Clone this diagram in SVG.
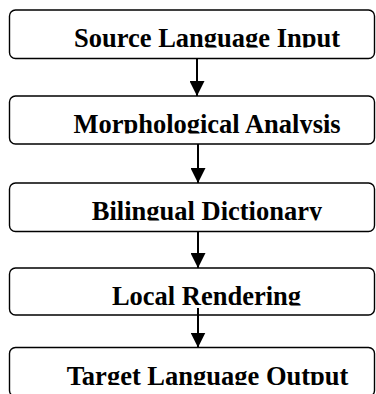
<svg xmlns="http://www.w3.org/2000/svg" width="376" height="394" viewBox="0 0 376 394">
<style>
.box{fill:#fff;stroke:#000;stroke-width:1.4}
.lbl{font-family:"Liberation Serif","Times New Roman",serif;font-weight:bold;font-size:26.5px;fill:#000;text-anchor:middle}
.con{stroke:#000;stroke-width:2;fill:none}
</style>
<defs>
<marker id="arr" markerUnits="userSpaceOnUse" markerWidth="15" markerHeight="15" viewBox="0 0 15 15" refX="15" refY="7.5" orient="auto">
<path d="M0,0 L15,7.5 L0,15 Z" fill="#000"/>
</marker>
<clipPath id="c1"><rect x="0" y="0" width="376" height="47.5"/></clipPath>
<clipPath id="c2"><rect x="0" y="0" width="376" height="133.5"/></clipPath>
<clipPath id="c3"><rect x="0" y="0" width="376" height="220.5"/></clipPath>
<clipPath id="c4"><rect x="0" y="0" width="376" height="305.5"/></clipPath>
<clipPath id="c5"><rect x="0" y="0" width="376" height="385"/></clipPath>
</defs>
<rect width="376" height="394" fill="#fff"/>
<g id="n1">
<rect class="box" x="9.5" y="10" width="365" height="48.5" rx="6"/>
<text class="lbl" x="207" y="47" clip-path="url(#c1)">Source Language Input</text>
</g>
<g id="n2">
<rect class="box" x="9.5" y="96" width="365" height="48" rx="6"/>
<text class="lbl" x="207" y="133" clip-path="url(#c2)">Morphological Analysis</text>
</g>
<g id="n3">
<rect class="box" x="9.5" y="183" width="365" height="48.5" rx="6"/>
<text class="lbl" x="207" y="220" clip-path="url(#c3)">Bilingual Dictionary</text>
</g>
<g id="n4">
<rect class="box" x="9.5" y="268" width="365" height="47" rx="6"/>
<text class="lbl" x="206.5" y="305" clip-path="url(#c4)">Local Rendering</text>
</g>
<g id="n5">
<rect class="box" x="9.5" y="347.5" width="365" height="49" rx="6"/>
<text class="lbl" x="207.5" y="384.5" clip-path="url(#c5)">Target Language Output</text>
</g>
<g id="connectors">
<line class="con" x1="197" y1="58.5" x2="197" y2="96" marker-end="url(#arr)"/>
<line class="con" x1="198" y1="144" x2="198" y2="183" marker-end="url(#arr)"/>
<line class="con" x1="198" y1="231.5" x2="198" y2="268" marker-end="url(#arr)"/>
<line class="con" x1="198" y1="308" x2="198" y2="347.5" marker-end="url(#arr)"/>
</g>
</svg>
